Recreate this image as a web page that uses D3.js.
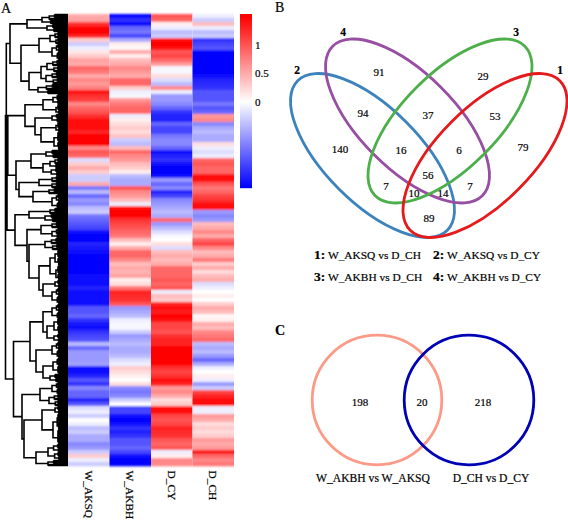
<!DOCTYPE html>
<html><head><meta charset="utf-8">
<script src="https://d3js.org/d3.v7.min.js"></script>
<style>
html,body{margin:0;padding:0;background:#fff}
svg{display:block}
text{font-family:"Liberation Serif",serif;fill:#000;stroke:#000;stroke-width:.2px}
</style></head><body>
<svg id="c" width="568" height="520">
<defs>
<filter id="rowSoft" x="0" y="-2%" width="100%" height="104%" filterUnits="objectBoundingBox"><feGaussianBlur stdDeviation="0.35 1.1"/></filter>
</defs>
</svg>
<script>
// ---- data ----
const conditions = ["W_AKSQ","W_AKBH","D_CY","D_CH"];
const W_AKSQ = [.5,.55,1.2,1.5,1.5,1.3,.3,-.3,-.1,.15,.3,.55,.5,.9,.8,.5,.7,.6,.75,1.4,1.2,1.15,.7,.9,1,1.2,1.4,1.4,
 1.4,1.3,1.5,1.5,1.5,.7,1,.9,-.2,.3,.5,.3,-.3,-.3,.5,-.8,-.4,-.9,-.6,-.7,-.4,-.3,-.8,-.9,-1,-1.1,-1.4,-1.5,-1.5,
 -1.3,-1.35,-1.45,-1.5,-1.5,-1.5,-1.5,-1.5,-1.45,-1.4,-1.4,-1.3,-1.45,-1.45,-1.4,-1.4,-1,-1,-.9,-1.2,-1.35,-1.4,-1.2,-1.1,-1,-.4,-.9,-.6,-.6,
 -.6,-.55,-1.4,-1.45,-1.3,-1,-1.2,-.7,-.9,-.9,-1.3,-1,-.2,-.1,-.3,0,-.1,-.4,-.3,-.5,-.5,-.7,-.6,-.3,.3,-.1,-.3];
const W_AKBH = [-1.5,-1.2,-1.5,-.9,-.8,-1.1,-.5,.1,.05,.5,.1,.4,.5,.7,.6,.5,.9,.9,.3,-.1,-.05,.6,.8,.9,.9,-.1,.1,.2,
 .3,.2,.35,-.3,-.4,.4,.9,.7,.6,.4,.3,.1,-.4,-.5,-.5,1,.7,.6,.4,-.1,1.45,1.5,1.5,1.2,1.1,1,.9,.8,.4,
 .1,.5,.9,.9,.7,.4,.5,.45,.55,.1,.2,.8,1.3,1.25,1.2,1,-.6,-.5,-.4,-.1,-.05,-.05,-.3,-.6,-.5,-.4,-.5,-.5,-.4,
 -.2,-.1,.3,.2,.1,0,.2,-.7,-.8,-.7,-.3,0,-1.1,-1.1,-1.4,-1.5,-1.4,-1.2,-1.3,-1.2,-1,-1,-.9,-1.1,-1.4,-1.5,-1.5];
const D_CY = [1,.9,.1,-.1,-.4,-.3,1.4,1.5,1.4,1,1.1,.9,.6,-.05,-.05,.2,-.2,-.4,.7,-.1,-.6,-.6,-.7,-.9,-1.2,-1.3,-1.3,-.9,
 -1.1,-1.1,-.8,-.7,-.7,-.9,-1.4,-1.3,-1.2,-1.45,-1.5,-1.5,-1.4,-.6,-.9,-.7,-1.3,-1.1,-.7,-.6,-.5,-.4,-.5,.9,-.6,-.4,-.2,-.05,0,
 .2,-.2,.4,.5,.4,.5,.9,.9,.9,1,.9,1,-.1,.4,.3,1.3,1.4,1.35,1.5,1.45,1.1,1.1,1,1.2,1.3,1.3,1.5,1.5,1.5,
 1.5,1.5,1.2,1.1,1.2,1.4,1.3,.6,.7,.5,.2,.3,1.4,1.4,1.1,1,1.1,1.3,1.25,1.2,1,.9,1,-.1,.1,.7,.7];
const D_CH = [-.1,-.3,.4,-.1,-.4,-.3,-1.2,-1.1,-1,-1.5,-1.5,-1.5,-1.5,-1.5,-1.5,-1.45,-1.3,-1.25,-1.2,-1,-1,-1,-.8,-1,-.9,.6,.7,-.7,
 -.5,-.4,-.5,-.5,.2,-.1,-.2,-.1,.9,1,.9,.9,1.4,1.4,1,.8,.9,1.1,1.2,1.45,1.4,-.6,-.7,-.6,.4,.5,.7,.5,.9,
 1.1,.7,.4,.5,.8,.3,.5,.2,.4,.5,-.2,-.1,0,.1,0,.3,.5,.4,.05,.1,.5,.4,.7,.8,.9,-.4,-.5,-.4,-.6,
 -.9,-.5,-.1,0,.1,-.1,-.6,-.3,1.1,1.3,1.45,1.45,-.1,-.1,.6,.5,.2,.3,.2,.3,.6,.5,.6,1.4,.9,.7,.8];
const heatSeries = [W_AKSQ,W_AKBH,D_CY,D_CH];
const colorTicks = [0,0.5,1];

// Dendrogram: [mergeHeight, child, child]; a bush is [mergeHeight, leafCount]
const cluster1 = [58,[41,[26,5],[21,4]],[47,[29,[18,6],[16,8]],[39,[27,[21,6],[22,6]],[30,5]]]];
const cluster2 = [43,[25,[15,5],[12,5]],[33,[16,4],[27,[12,5],[14,9]]]];
const cluster3 = [52,[37,[22,4],[25,9]],[49,[29,[16,3],[16,3]],[35,[19,3],[16,7]]]];
const cluster4 = [53,[39,[18,3],[23,4]],[41,[27,[16,3],[16,5]],[39,[23,6],[29,[18,15],[25,[13,4],[16,8]]]]]];
const cluster5 = [54.5,[38,[25,[16,7],[21,[14,8],[14,4]]],[32,[16,8],[25,[15,8],[18,4]]]],
                       [46,[28,[16,6],[19,6]],[44,[26,[13,4],[15,15]],[32,[20,8],[20,3]]]]];
const treeRoot = [62.5,[61.7,cluster1,[61,[60.2,cluster2,cluster3],cluster4]],cluster5];

const vennFourSets = ["1","2","3","4"];
const vennFourCounts = ["91","29","94","37","53","140","16","6","79","56","7","7","10","14","89"];
const vennFourLegend = ["W_AKSQ vs D_CH","W_AKSQ vs D_CY","W_AKBH vs D_CH","W_AKBH vs D_CY"];
const vennTwoCounts = ["198","20","218"];
const vennTwoLegend = ["W_AKBH vs W_AKSQ","D_CH vs D_CY"];

// ---- layout and style ----
const svg = d3.select("#c");
const color = d3.scaleLinear().domain([-1.5,0,1.5]).range(["#0000ff","#ffffff","#ff0000"]).clamp(true);
const x = d3.scaleBand().domain(conditions).range([68,234]);
const nRows = W_AKSQ.length;
const y = d3.scaleBand().domain(d3.range(nRows)).range([14,466]);

// heat map
const cols = svg.append("g").selectAll("g").data(conditions).join("g")
  .attr("transform",d=>`translate(${x(d)},0)`).attr("filter","url(#rowSoft)");
cols.each(function(d,i){
  d3.select(this).selectAll("rect").data(heatSeries[i]).join("rect")
    .attr("y",(v,r)=>y(r)).attr("width",x.bandwidth()).attr("height",y.bandwidth()+0.3)
    .attr("fill",v=>color(v));
});
const xAxis = svg.append("g").attr("transform","translate(0,466)")
  .call(d3.axisBottom(x).tickSize(0));
xAxis.select(".domain").remove();
xAxis.selectAll("text").attr("transform","rotate(90)")
  .attr("x",4.5).attr("y",0).attr("dy","0.33em").attr("text-anchor","start")
  .style("font-family",'"Liberation Serif",serif').style("font-size","11.4px");

// colour bar
const barScale = d3.scaleLinear().domain([-1.51,1.54]).range([188,14]);
svg.append("g").selectAll("rect").data(d3.range(188,14,-1)).join("rect")
  .attr("x",240).attr("width",12).attr("y",d=>d-1).attr("height",1.2)
  .attr("fill",d=>color(barScale.invert(d-0.5)));
const barAxis = svg.append("g").attr("transform","translate(252,0)")
  .call(d3.axisRight(barScale).tickValues(colorTicks).tickSize(0).tickFormat(d3.format("")));
barAxis.select(".domain").remove();
barAxis.selectAll("text").attr("x",3)
  .style("font-family",'"Liberation Serif",serif').style("font-size","11px");

// dendrogram
function expand(node){
  if(node.length===3) return {h:node[0],children:[expand(node[1]),expand(node[2])]};
  return bush(node[0],node[1]);
}
function bush(h,n){
  if(n===1) return {h:0};
  const a=Math.ceil(n/2);
  const next=Math.max(h*0.72,10);
  return {h,children:[bush(next,a),bush(next*0.93,n-a)]};
}
const root = d3.hierarchy(expand(treeRoot));
const leafY = d3.scaleLinear().domain([0,root.leaves().length]).range([14,466]);
const treeX = d3.scaleLinear().domain([0,62.5]).range([68,5.5]);
let leafIndex=0;
root.eachAfter(n=>{
  n.py = n.children ? (n.children[0].py+n.children[1].py)/2 : leafY(leafIndex++ + 0.5);
  n.px = treeX(n.data.h);
});
const elbow = d3.path(), tips = d3.path();
root.each(n=>{ if(n.children){
  n.children.forEach(c=>{
    const p = c.children ? elbow : tips;
    p.moveTo(c.px,c.py); p.lineTo(n.px,c.py);
  });
  const [a,b]=n.children;
  elbow.moveTo(n.px,a.py); elbow.lineTo(n.px,b.py);
}});
svg.append("path").attr("d",elbow.toString()).attr("fill","none").attr("stroke","#000").attr("stroke-width",1.6).attr("stroke-linecap","square");
svg.append("path").attr("d",tips.toString()).attr("fill","none").attr("stroke","#000").attr("stroke-width",2.3);

// panel letters
const panels=[["A",1,13,400],["B",275,12,400],["C",275,335,700]];
svg.append("g").selectAll("text").data(panels).join("text")
  .attr("x",d=>d[1]).attr("y",d=>d[2]).attr("font-size",14).attr("font-weight",d=>d[3]).text(d=>d[0]);

// four-set Venn
const ellipseCfg=[
 {set:"2",cx:372.5,cy:155.5,rot:45,stroke:"#3c83bd",lx:297,ly:70},
 {set:"4",cx:407.5,cy:121,rot:45,stroke:"#984ea3",lx:343,ly:32},
 {set:"3",cx:450,cy:121,rot:-45,stroke:"#4daf4a",lx:516,ly:32},
 {set:"1",cx:485,cy:155.5,rot:-45,stroke:"#e41a1c",lx:560,ly:70}];
const venn=svg.append("g");
venn.selectAll("ellipse").data(ellipseCfg).join("ellipse")
  .attr("rx",105.8).attr("ry",47.5).attr("fill","none").attr("stroke-width",2.8)
  .attr("stroke",d=>d.stroke).attr("transform",d=>`translate(${d.cx},${d.cy}) rotate(${d.rot})`);
venn.selectAll("text.set").data(ellipseCfg.filter(d=>vennFourSets.includes(d.set))).join("text").attr("class","set")
  .attr("x",d=>d.lx).attr("y",d=>d.ly).attr("dy","0.35em").attr("text-anchor","middle")
  .attr("font-size",11.5).attr("font-weight",700).text(d=>d.set);
const countPos=[[379,72],[483,76],[363,113],[428,115],[495,116],[340,149],[401,150],[459,150],[523,147],[428,175],[386,186],[470,186],[414,193],[443,193],[429,218]];
venn.selectAll("text.n").data(vennFourCounts).join("text").attr("class","n")
  .attr("x",(d,i)=>countPos[i][0]).attr("y",(d,i)=>countPos[i][1]).attr("dy","0.35em").attr("text-anchor","middle")
  .attr("font-size",11).text(d=>d);
const legendPos=[[314,255],[433,255],[314,277],[433,277]];
const leg=venn.selectAll("text.l").data(vennFourLegend).join("text").attr("class","l")
  .attr("x",(d,i)=>legendPos[i][0]).attr("y",(d,i)=>legendPos[i][1]).attr("dy","0.35em").attr("font-size",11.4);
leg.append("tspan").attr("font-weight",700).attr("font-size",13.5).text((d,i)=>(i+1)+":");
leg.append("tspan").text(d=>" "+d);

// two-set Venn
const circleCfg=[{cx:377,stroke:"#fb9b87"},{cx:469,stroke:"#0000b4"}];
const two=svg.append("g");
two.selectAll("circle").data(circleCfg).join("circle")
  .attr("cx",d=>d.cx).attr("cy",400).attr("r",64.8).attr("fill","none").attr("stroke-width",2.8).attr("stroke",d=>d.stroke);
const twoPos=[360,422,483];
two.selectAll("text.n").data(vennTwoCounts).join("text").attr("class","n")
  .attr("x",(d,i)=>twoPos[i]).attr("y",402).attr("dy","0.35em").attr("text-anchor","middle").attr("font-size",11).text(d=>d);
const twoLegPos=[373,491];
two.selectAll("text.l").data(vennTwoLegend).join("text").attr("class","l")
  .attr("x",(d,i)=>twoLegPos[i]).attr("y",478).attr("dy","0.35em").attr("text-anchor","middle").attr("font-size",11.6).text(d=>d);
</script>
</body></html>
